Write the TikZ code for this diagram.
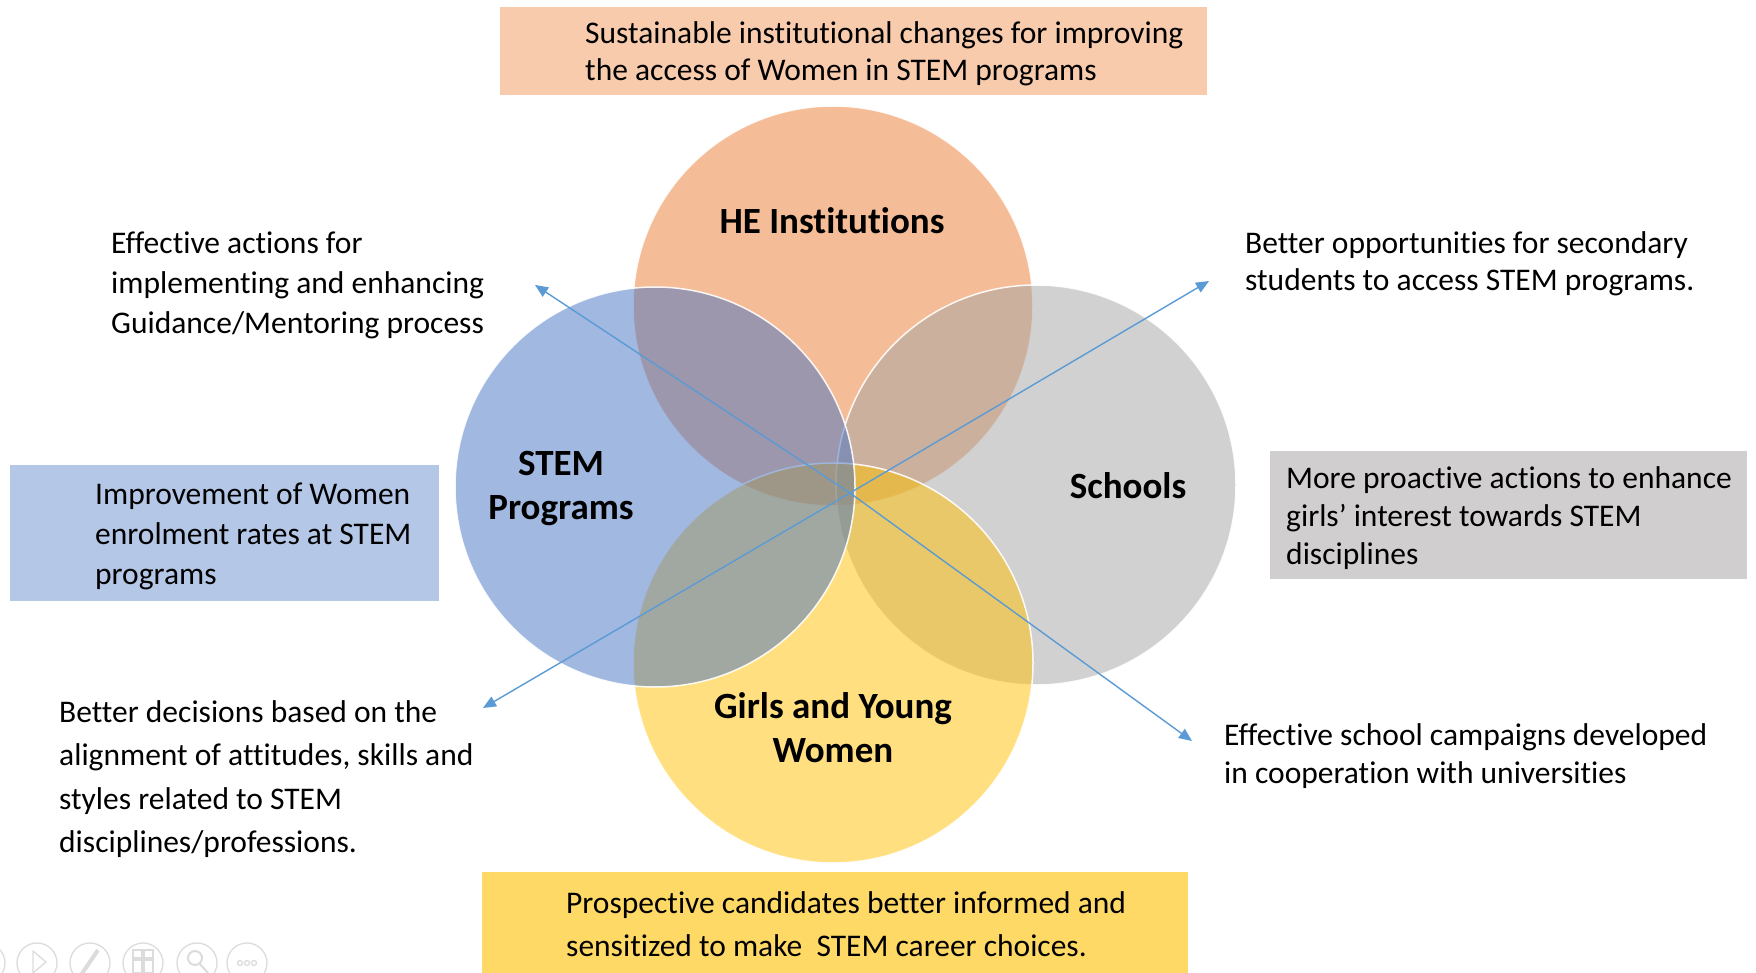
\documentclass[tikz,border=0pt]{standalone}
\usepackage{fontspec}
\setmainfont[Ligatures={NoCommon}]{Carlito}
\usetikzlibrary{arrows.meta}
\definecolor{heC}{HTML}{ED7D31}
\definecolor{stemC}{HTML}{4472C4}
\definecolor{schC}{HTML}{A5A5A5}
\definecolor{girlC}{HTML}{FFC000}
\definecolor{topbox}{HTML}{F8CBAD}
\definecolor{bluebox}{HTML}{B4C7E7}
\definecolor{greybox}{HTML}{D0CECE}
\definecolor{yelbox}{HTML}{FFD966}
\definecolor{arrC}{HTML}{5B9BD5}
\definecolor{iconC}{HTML}{DCDCDC}
\begin{document}
\begin{tikzpicture}[x=1pt,y=-1pt,
  venn/.style={circle, minimum size=400pt, inner sep=0pt, draw=white, line width=1.5pt, fill opacity=0.5, draw opacity=0.9},
  vlabel/.style={inner sep=0pt, align=center, font=\fontsize{37}{44}\selectfont\bfseries},
  txt/.style={anchor=north west, inner sep=0pt, align=left},
  boxshape/.style={anchor=north west, inner sep=0pt, draw=none},
  arr/.style={draw=arrC, line width=1.4pt, -{Triangle[length=13pt,width=11pt]}},
  icon/.style={draw=iconC, line width=1.3pt}
]
\useasboundingbox (0,0) rectangle (1756,973);
\clip (0,0) rectangle (1756,973);
\fill[white] (0,0) rectangle (1756,973);

% boxes
\node[boxshape, fill=topbox, minimum width=707pt, minimum height=88pt] (topbox) at (500,7) {};
\node[boxshape, fill=bluebox, minimum width=429pt, minimum height=136pt] (bluebox) at (10,465) {};
\node[boxshape, fill=greybox, minimum width=477pt, minimum height=128pt] (greybox) at (1270,451) {};
\node[boxshape, fill=yelbox, minimum width=706pt, minimum height=110pt] (yelbox) at (482,872) {};

% venn circles
\node[venn, fill=heC] (he) at (833,306) {};
\node[venn, fill=schC] (sch) at (1036,485) {};
\node[venn, fill=girlC] (girl) at (833,663) {};
\node[venn, fill=stemC] (stem) at (655,487) {};

% circle labels
\node[vlabel] (helab) at (832,221) {HE Institutions};
\node[vlabel] (stemlab) at (561,489) {STEM\\Programs};
\node[vlabel] (schlab) at (1128,486) {Schools};
\node[vlabel] (girllab) at (833,728) {Girls and Young\\Women};

% texts
\node[txt, font=\fontsize{31.5}{37}\selectfont] (toptxt) at (585,21)
  {Sustainable institutional changes for improving\\the access of Women in STEM programs};
\node[txt, font=\fontsize{31.5}{40}\selectfont] (guid) at (111,232)
  {Effective actions for\\implementing and enhancing\\Guidance/Mentoring process};
\node[txt, font=\fontsize{31.5}{37}\selectfont] (secs) at (1245,231)
  {Better opportunities for secondary\\students to access STEM programs.};
\node[txt, font=\fontsize{31.5}{40}\selectfont] (enr) at (95,483)
  {Improvement of Women\\enrolment rates at STEM\\programs};
\node[txt, font=\fontsize{31.5}{38}\selectfont] (proa) at (1286,466)
  {More proactive actions to enhance\\girls’ interest towards STEM\\disciplines};
\node[txt, font=\fontsize{31.5}{43.5}\selectfont] (deci) at (59,700)
  {Better decisions based on the\\alignment of attitudes, skills and\\styles related to STEM\\disciplines/professions.};
\node[txt, font=\fontsize{31.5}{38}\selectfont] (camp) at (1224,723)
  {Effective school campaigns developed\\in cooperation with universities};
\node[txt, font=\fontsize{31.5}{43.5}\selectfont] (prosp) at (566,891)
  {Prospective candidates better informed and\\sensitized to make~ STEM career choices.};

% arrows
\coordinate (hub) at (850,493);
\coordinate (tl) at (535,285);
\coordinate (tr) at (1209,281);
\coordinate (bl) at (483,708);
\coordinate (br) at (1192,741);
\draw[arr] (hub) -- (tl);
\draw[arr] (hub) -- (tr);
\draw[arr] (hub) -- (bl);
\draw[arr] (hub) -- (br);

% faint presentation toolbar
\draw[icon] (-15,963) circle[radius=20pt];
\draw[icon] (37,963) circle[radius=20pt];
\draw[icon] (90,963) circle[radius=20pt];
\draw[icon] (143,963) circle[radius=20pt];
\draw[icon] (197,963) circle[radius=20pt];
\draw[icon] (247,963) circle[radius=20pt];
\draw[icon, line join=round] (33,951) -- (33,973) -- (46,962) -- cycle;
\draw[icon, line width=4pt] (81,975) -- (98,950);
\draw[icon] (133,950) rectangle (142,958) (144,950) rectangle (153,958) (133,960) rectangle (142,973) (144,960) rectangle (153,973);
\draw[icon, line width=2pt] (195,958) circle[radius=7pt] (200,964) -- (208,973);
\draw[icon] (240,963) circle[radius=2.5pt] (247,963) circle[radius=2.5pt] (254,963) circle[radius=2.5pt];
\end{tikzpicture}
\end{document}
